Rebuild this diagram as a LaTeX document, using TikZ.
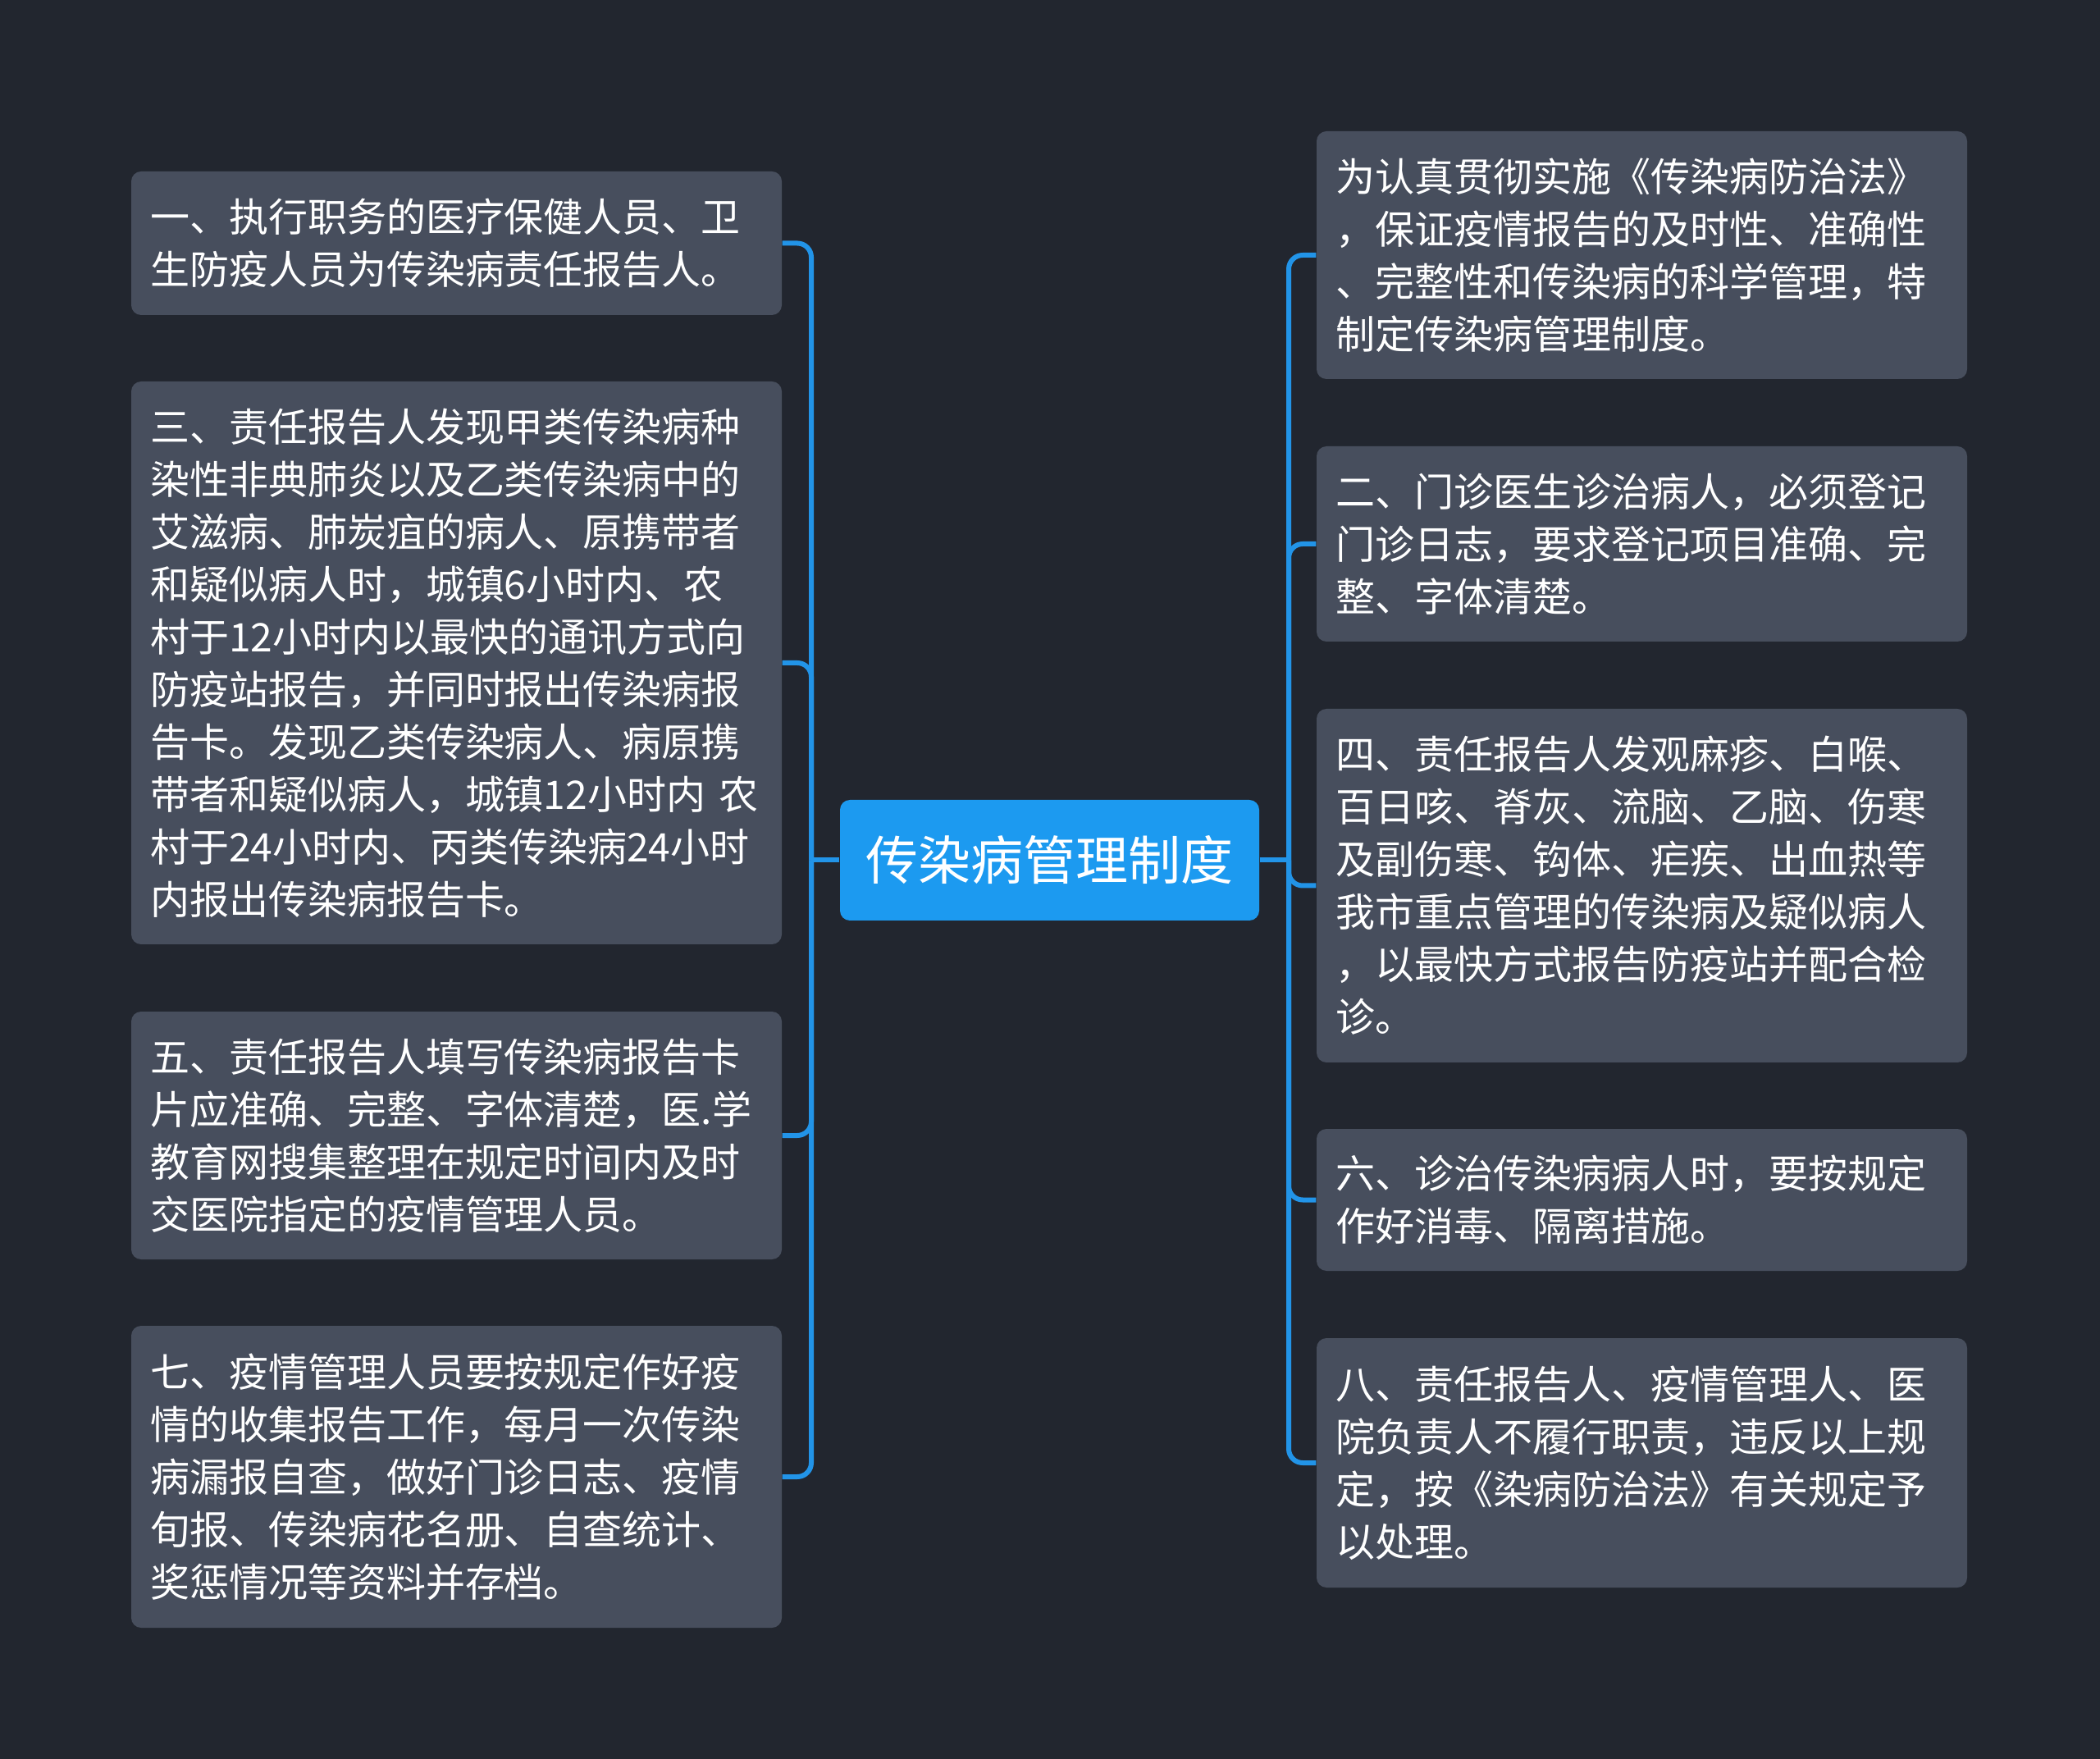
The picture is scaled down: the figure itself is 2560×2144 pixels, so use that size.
\documentclass[tikz,border=0pt]{standalone}
\usepackage{fontspec}
\setmainfont{Noto Sans CJK SC}
\usetikzlibrary{positioning}
\definecolor{bgc}{HTML}{22262F}
\definecolor{boxc}{HTML}{474E5D}
\definecolor{mainc}{HTML}{1C9AF0}
\definecolor{linec}{HTML}{2294E8}
\tikzset{
  leaf/.style={rectangle, rounded corners=3.6pt, fill=boxc, text=white,
    minimum width=237.9pt, text width=224.1pt, inner xsep=6.9pt, inner ysep=0pt,
    align=left, font=\fontsize{14.4pt}{19.2pt}\selectfont},
  rootbox/.style={rectangle, rounded corners=3.6pt, fill=mainc, text=white,
    minimum width=153.3pt, minimum height=44.1pt, inner sep=0pt,
    align=center, font=\fontsize{19.2pt}{24pt}\selectfont},
  conn/.style={draw=linec, line width=1.8pt, rounded corners=5.1pt}
}
\begin{document}
\begin{tikzpicture}[x=0.3pt, y=-0.3pt]
\useasboundingbox (0,0) rectangle (2560,2144);
\fill[bgc] (0,0) rectangle (2560,2144);

\node[rootbox] (root) at (1279.5,1048.5) {传染病管理制度};

\node[leaf, minimum height=52.5pt] (l1) at (556.5,296.5) {一、执行职务的医疗保健人员、卫\\生防疫人员为传染病责任报告人。};
\node[leaf, minimum height=205.8pt] (l3) at (556.5,808) {三、责任报告人发现甲类传染病种\\染性非典肺炎以及乙类传染病中的\\艾滋病、肺炭疽的病人、原携带者\\和疑似病人时，城镇6小时内、农\\村于12小时内以最快的通讯方式向\\防疫站报告，并同时报出传染病报\\告卡。发现乙类传染病人、病原携\\带者和疑似病人，城镇12小时内 农\\村于24小时内、丙类传染病24小时\\内报出传染病报告卡。};
\node[leaf, minimum height=90.6pt] (l5) at (556.5,1384) {五、责任报告人填写传染病报告卡\\片应准确、完整、字体清楚，医.学\\教育网搜集整理在规定时间内及时\\交医院指定的疫情管理人员。};
\node[leaf, minimum height=110.4pt] (l7) at (556.5,1800) {七、疫情管理人员要按规定作好疫\\情的收集报告工作，每月一次传染\\病漏报自查，做好门诊日志、疫情\\旬报、传染病花名册、自查统计、\\奖惩情况等资料并存档。};

\node[leaf, minimum height=90.6pt] (r1) at (2001.5,311) {为认真贯彻实施《传染病防治法》\\，保证疫情报告的及时性、准确性\\、完整性和传染病的科学管理，特\\制定传染病管理制度。};
\node[leaf, minimum height=71.4pt] (r2) at (2001.5,663) {二、门诊医生诊治病人，必须登记\\门诊日志，要求登记项目准确、完\\整、字体清楚。};
\node[leaf, minimum height=129.3pt] (r4) at (2001.5,1079.5) {四、责任报告人发观麻疹、白喉、\\百日咳、脊灰、流脑、乙脑、伤寒\\及副伤寒、钩体、疟疾、出血热等\\我市重点管理的传染病及疑似病人\\，以最快方式报告防疫站并配合检\\诊。};
\node[leaf, minimum height=51.9pt] (r6) at (2001.5,1462.5) {六、诊治传染病病人时，要按规定\\作好消毒、隔离措施。};
\node[leaf, minimum height=91.2pt] (r8) at (2001.5,1783) {八、责任报告人、疫情管理人、医\\院负责人不履行职责，违反以上规\\定，按《染病防治法》有关规定予\\以处理。};

\coordinate (jl) at (989,1048.5);
\coordinate (jr) at (1571,1048.5);

\draw[conn] (root.west) -- (jl);
\draw[conn] (root.east) -- (jr);
\foreach \n in {l1,l3,l5,l7} { \draw[conn] (jl) |- (\n.east); }
\foreach \n in {r1,r2,r4,r6,r8} { \draw[conn] (jr) |- (\n.west); }
\end{tikzpicture}
\end{document}
